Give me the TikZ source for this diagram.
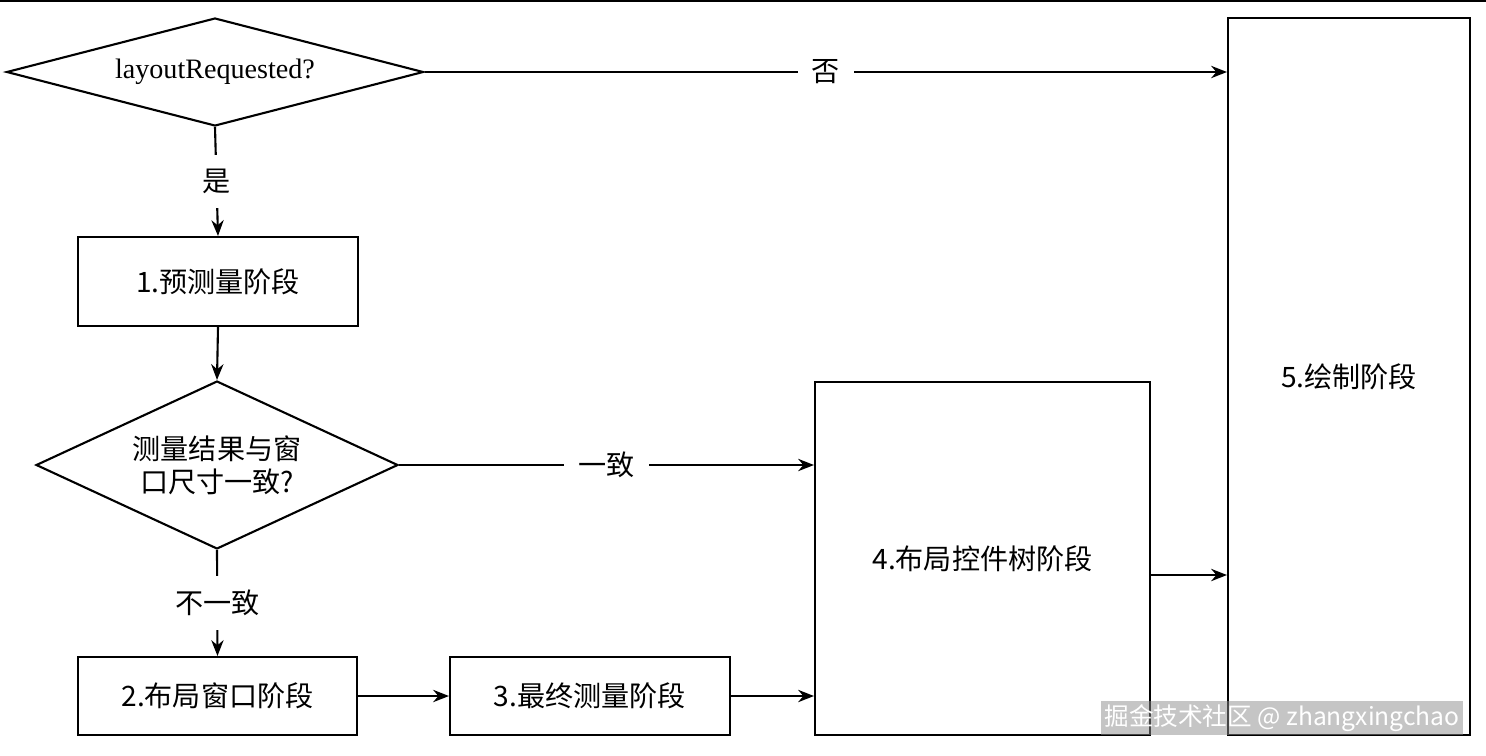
\documentclass[tikz,border=0pt]{standalone}
\usepackage{fontspec}
\setmainfont{Liberation Serif}
\newfontfamily\cjk{Noto Sans CJK SC}
\usetikzlibrary{shapes.geometric,arrows.meta}
\tikzset{
  stagebox/.style={draw,line width=1.2pt,inner sep=0pt},
  choice/.style={draw,diamond,line width=1.2pt,inner sep=0pt},
  flow/.style={draw,line width=1.2pt,-{Stealth[length=9pt,width=7pt]}},
  lbl/.style={fill=white,inner sep=8pt,font=\fontsize{16}{19}\selectfont\cjk}
}
\begin{document}
\begin{tikzpicture}[x=0.02cm,y=-0.02cm,font=\fontsize{16}{19}\selectfont\cjk]
\useasboundingbox[fill=white] (0,0) rectangle (1486,755);
\draw[line width=1.5pt] (0,1) -- (1486,1);
% decisions
\node[choice,aspect=3.86,minimum width=8.34cm,minimum height=2.16cm] (ask) at (215,72) {\rmfamily layoutRequested?};
\node[choice,aspect=2.15,minimum width=7.24cm,minimum height=3.36cm,align=center] (fit) at (217,465) {测量结果与窗\\口尺寸一致?};
% stages
\node[stagebox,minimum width=5.6cm,minimum height=1.78cm] (pre) at (218,281.5) {1.预测量阶段};
\node[stagebox,minimum width=5.58cm,minimum height=1.56cm] (win) at (217.5,696) {2.布局窗口阶段};
\node[stagebox,minimum width=5.6cm,minimum height=1.56cm] (fin) at (590,696) {3.最终测量阶段};
\node[stagebox,minimum width=6.7cm,minimum height=7.06cm] (tree) at (982.5,558.5) {4.布局控件树阶段};
\node[stagebox,minimum width=4.84cm,minimum height=14.34cm] (draw) at (1349,376.5) {5.绘制阶段};
% connectors
\draw[flow] (ask.east) -- node[lbl] {否} (draw.west |- ask.east);
\draw[flow] (ask.south) -- node[lbl] {是} (pre.north);
\draw[flow] (pre.south) -- (fit.north);
\draw[flow] (fit.east) -- node[lbl] {一致} (tree.west |- fit.east);
\draw[flow] (fit.south) -- node[lbl] {不一致} (win.north);
\draw[flow] (win.east) -- (fin.west);
\draw[flow] (fin.east) -- (tree.west |- fin.east);
\draw[flow] (tree.east |- 0,575) -- (draw.west |- 0,575);
% watermark
\node[text=white,fill=black!45,fill opacity=0.5,text opacity=1,inner sep=2pt,font=\fontsize{14}{16}\selectfont\cjk] (mark) at (1282,718) {掘金技术社区 @ zhangxingchao};
\end{tikzpicture}
\end{document}
